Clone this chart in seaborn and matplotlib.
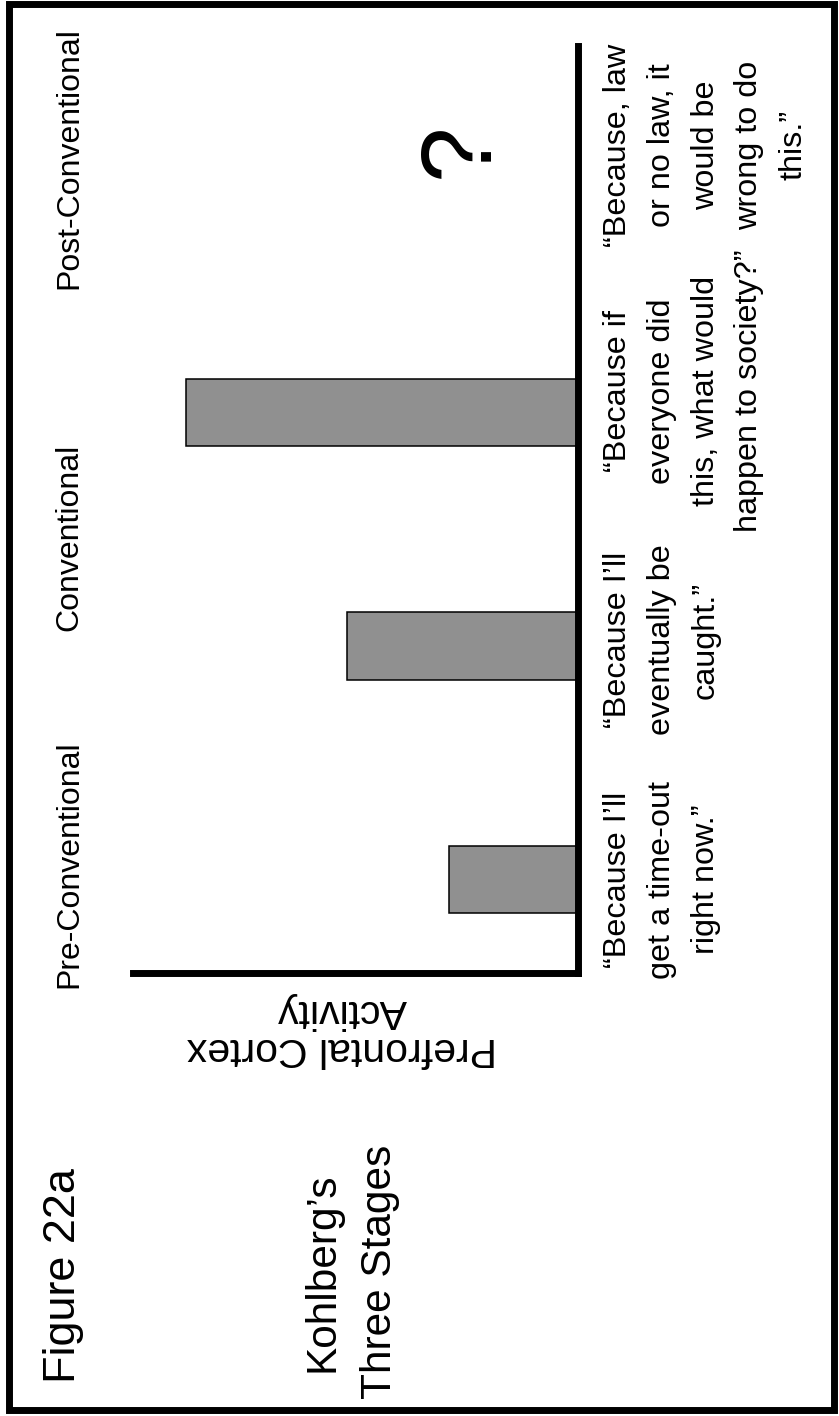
import matplotlib
matplotlib.use("Agg")
import matplotlib.pyplot as plt
import seaborn as sns
import pandas as pd
from matplotlib import font_manager, transforms
from matplotlib.patches import Rectangle

# ---------------- data ----------------
stages = ["Pre-Conventional", "Conventional", "Post-Conventional"]
responses = [
    "\u201cBecause I\u2019ll\nget a time-out\nright now.\u201d",
    "\u201cBecause I\u2019ll\neventually be\ncaught.\u201d",
    "\u201cBecause if\neveryone did\nthis, what would\nhappen to society?\u201d",
    "\u201cBecause, law\nor no law, it\nwould be\nwrong to do\nthis.\u201d",
]
bar_categories = ["time-out", "caught", "society"]
activity = [2.9, 5.2, 8.8]
unknown_mark = "?"
axis_label = "Prefrontal Cortex\nActivity"
figure_label = "Figure 22a"
title = "Kohlberg\u2019s\nThree Stages"

# ---------------- style ----------------
sns.set_style("white")
plt.rcParams["font.family"] = ["Liberation Sans", "DejaVu Sans"]


def has_font(name):
    try:
        font_manager.findfont(font_manager.FontProperties(family=name),
                              fallback_to_default=False)
        return True
    except Exception:
        return False


narrow = has_font("Liberation Sans Narrow")
stage_family = ["Liberation Sans Narrow", "DejaVu Sans"] if narrow else ["Liberation Sans", "DejaVu Sans"]
stage_size = 28 if narrow else 23

W, H, DPI = 839, 1416, 100
fig = plt.figure(figsize=(W / DPI, H / DPI), dpi=DPI)
fig.patch.set_facecolor("white")

ax = fig.add_axes([133 / W, 1 - 973 / H, 445 / W, 927 / H])

df = pd.DataFrame({"category": bar_categories, "activity": activity})
sns.barplot(data=df, x="activity", y="category", orient="h", color="#909090",
            saturation=1, width=0.29, edgecolor="black", linewidth=1.1, ax=ax)

ax.set_xlim(10, 0)
ax.set_ylim(-0.40, 3.57)
ax.set_xticks([])
ax.set_yticks([])
ax.set_ylabel("")
ax.set_xlabel("")
for side in ["top", "left"]:
    ax.spines[side].set_visible(False)
for side in ["right", "bottom"]:
    ax.spines[side].set_visible(True)
    ax.spines[side].set_linewidth(5)
    ax.spines[side].set_color("black")
ax.set_facecolor("white")

# mixed transform: x in figure fraction, y in data units
tr = transforms.blended_transform_factory(fig.transFigure, ax.transData)

# stage labels (left)
stage_y = [0.067, 1.467, 3.09]
for s, yv in zip(stages, stage_y):
    ax.text(77.5 / W, yv, s, transform=tr, rotation=90, rotation_mode="anchor",
            ha="center", va="baseline", fontsize=stage_size, family=stage_family,
            color="black")

# response labels (right of baseline)
resp_y = [0.0, 1.026, 2.092, 3.146]
for r, yv in zip(responses, resp_y):
    ax.text(603 / W, yv, r, transform=tr, rotation=90, rotation_mode="anchor",
            ha="center", va="top", multialignment="center", fontsize=23.3,
            linespacing=1.6, color="black")

# question mark for the post-conventional stage
ax.text(2.62, 3.125, unknown_mark, rotation=90, ha="center", va="center",
        fontsize=72, color="black")

# axis label (upside down)
fig.text(342 / W, 1 - 1030 / H, axis_label, rotation=180, rotation_mode="anchor",
         ha="center", va="center", multialignment="center", fontsize=29.5,
         linespacing=1.0, color="black")

# figure label and title
fig.text(75 / W, 1 - 1276 / H, figure_label, rotation=90, rotation_mode="anchor",
         ha="center", va="baseline", fontsize=32.4, color="black")
fig.text(373 / W, 1 - 1272 / H, title, rotation=90, rotation_mode="anchor",
         ha="center", va="baseline", multialignment="center", fontsize=30.5,
         linespacing=1.58, color="black")

# frame
fig.patches.append(Rectangle((8.5 / W, 1 - 1409.5 / H), (834 - 8.5) / W,
                             (1409.5 - 3.5) / H, transform=fig.transFigure,
                             fill=False, edgecolor="black", linewidth=5))

fig.savefig("out.png", dpi=DPI)
